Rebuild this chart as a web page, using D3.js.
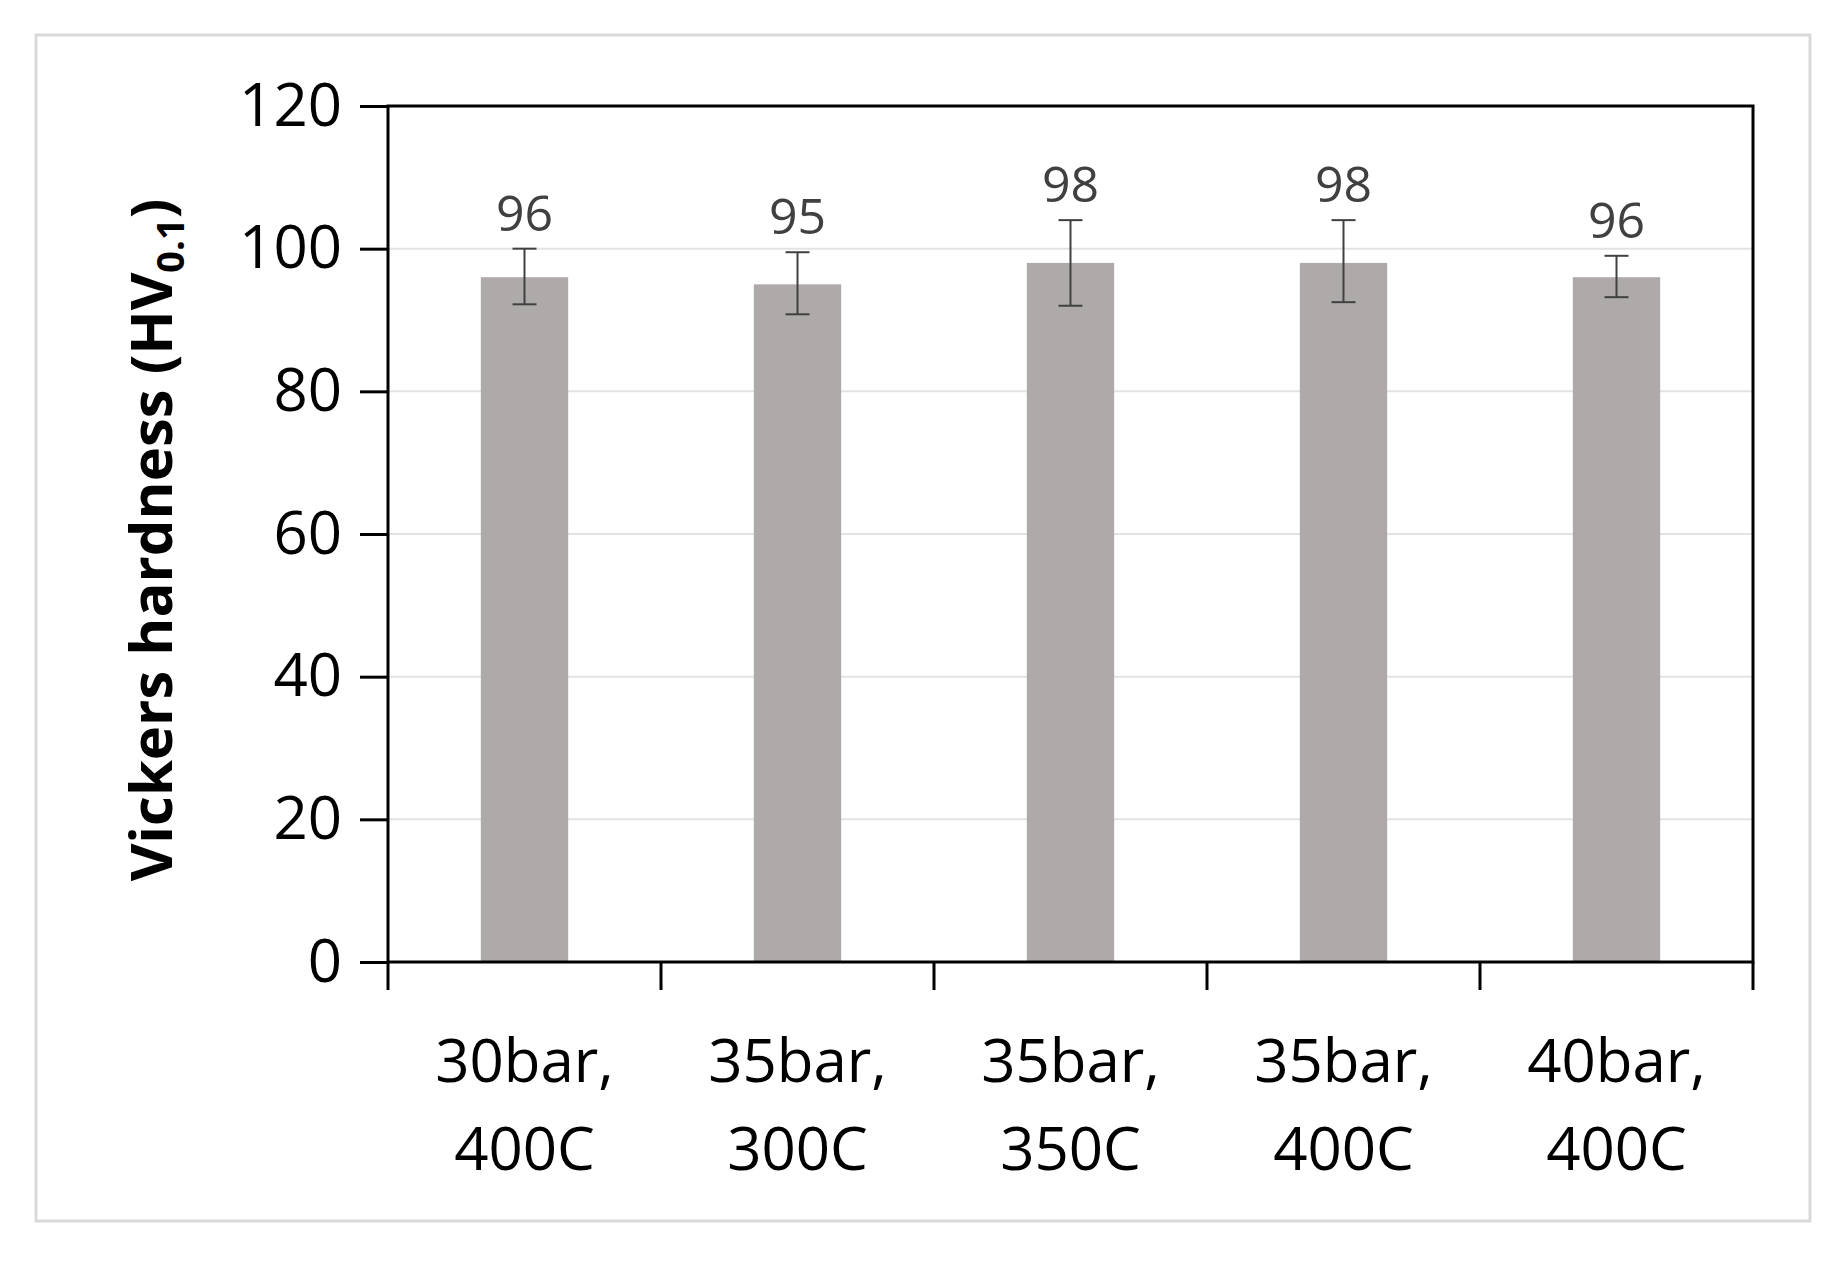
<!DOCTYPE html><html><head><meta charset="utf-8"><script src="https://cdn.jsdelivr.net/npm/d3@7"></script>
<style>body{margin:0;background:#fff}</style></head><body><svg id="c" width="1845" height="1263"></svg>
<script>
const categories=[["30bar,","400C"],["35bar,","300C"],["35bar,","350C"],["35bar,","400C"],["40bar,","400C"]];
const values=[96,95,98,98,96];
const errUp=[4,4.5,6,6,3];
const errDown=[3.8,4.2,6,5.5,2.8];
const yTicks=[0,20,40,60,80,100,120];
const svg=d3.select("#c");
const F="'Open Sans','Noto Sans',sans-serif";
svg.append("rect").attr("x",36).attr("y",35).attr("width",1774).attr("height",1186).attr("fill","#fff").attr("stroke","#d9d9d9").attr("stroke-width",3);
const L=388,R=1753,T=106,B=962;
const x=d3.scaleBand().domain(d3.range(5)).range([L,R]).paddingInner(0.68).paddingOuter(0.34);
const y=d3.scaleLinear().domain([0,120]).range([B,T]);
const g=svg.append("g");
g.selectAll(".gl").data(yTicks.slice(1,6)).join("line").attr("x1",L).attr("x2",R).attr("y1",d=>y(d)).attr("y2",d=>y(d)).attr("stroke","#e3e3e3").attr("stroke-width",2);
g.selectAll(".bar").data(values).join("rect").attr("x",(d,i)=>x(i)).attr("width",x.bandwidth()).attr("y",d=>y(d)).attr("height",d=>B-y(d)).attr("fill","#aeaaaa");
values.forEach((v,i)=>{
 const cx=x(i)+x.bandwidth()/2, t=y(v+errUp[i]), b=y(v-errDown[i]);
 g.append("line").attr("x1",cx).attr("x2",cx).attr("y1",t).attr("y2",b).attr("stroke","#404040").attr("stroke-width",2);
 [t,b].forEach(yy=>g.append("line").attr("x1",cx-12).attr("x2",cx+12).attr("y1",yy).attr("y2",yy).attr("stroke","#404040").attr("stroke-width",2));
 g.append("text").attr("x",cx).attr("y",t-18).attr("text-anchor","middle").attr("font-family",F).attr("font-size",50).attr("fill","#404040").text(v);
});
svg.append("rect").attr("x",L).attr("y",T).attr("width",R-L).attr("height",B-T).attr("fill","none").attr("stroke","#000").attr("stroke-width",3);
const ya=svg.append("g").attr("transform",`translate(${L},0)`).call(d3.axisLeft(y).tickValues(yTicks).tickSize(28).tickPadding(18));
ya.select(".domain").remove();
ya.selectAll("line").attr("stroke","#000").attr("stroke-width",3);
ya.selectAll("text").attr("font-family",F).attr("font-size",60).attr("fill","#000");
const xt=d3.range(6).map(i=>L+(R-L)*i/5);
svg.selectAll(".xt").data(xt).join("line").attr("x1",d=>d).attr("x2",d=>d).attr("y1",B).attr("y2",B+28).attr("stroke","#000").attr("stroke-width",3);
categories.forEach((c,i)=>{
 const cx=x(i)+x.bandwidth()/2;
 const t=svg.append("text").attr("text-anchor","middle").attr("font-family",F).attr("font-size",60).attr("fill","#000");
 t.append("tspan").attr("x",cx).attr("y",1082).text(c[0]);
 t.append("tspan").attr("x",cx).attr("y",1170).text(c[1]);
});
const yl=svg.append("text").attr("transform","translate(172,540) rotate(-90)").attr("text-anchor","middle").attr("font-family",F).attr("font-weight","bold").attr("font-size",58).attr("fill","#000");
yl.append("tspan").text("Vickers hardness (HV");
yl.append("tspan").attr("font-size",38).attr("dy",12).text("0.1");
yl.append("tspan").attr("dy",-12).text(")");
</script></body></html>
